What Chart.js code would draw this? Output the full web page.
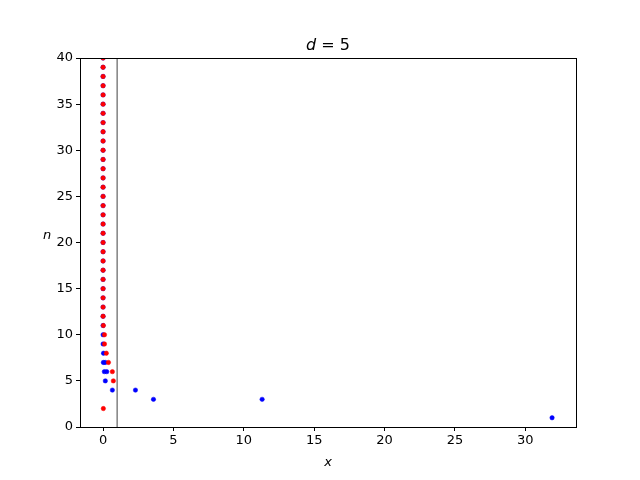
<!DOCTYPE html>
<html>
<head>
<meta charset="utf-8">
<script src="https://cdn.jsdelivr.net/npm/chart.js@4.4.1/dist/chart.umd.min.js"></script>
<style>
  html, body { margin: 0; padding: 0; background: #fff; }
  #wrap { width: 640px; height: 480px; }
</style>
</head>
<body>
<div id="wrap"><canvas id="chart" width="640" height="480"></canvas></div>
<script>
// values
var blueN = [1, 3, 3, 4, 4, 5, 6, 6, 7, 7, 8, 9, 10, 11, 12, 13, 14, 15, 16, 17, 18, 19, 20,
             21, 22, 23, 24, 25, 26, 27, 28, 29, 30, 31, 32, 33, 34, 35, 36, 37, 38, 39, 40];
var blueX = [31.9, 3.58, 11.3, 0.66, 2.3, 0.16, 0.09, 0.26, 0.02, 0.15, 0.03, 0.0, 0.0, 0.0, 0.0, 0.0, 0.0, 0.0, 0.0, 0.0, 0.0, 0.0, 0.0,
             0.0, 0.0, 0.0, 0.0, 0.0, 0.0, 0.0, 0.0, 0.0, 0.0, 0.0, 0.0, 0.0, 0.0, 0.0, 0.0, 0.0, 0.0, 0.0, 0.0];
var redN = [2, 5, 6, 7, 8, 9, 10, 11, 12, 13, 14, 15, 16, 17, 18, 19, 20,
            21, 22, 23, 24, 25, 26, 27, 28, 29, 30, 31, 32, 33, 34, 35, 36, 37, 38, 39, 40];
var redX = [0.02, 0.73, 0.66, 0.38, 0.23, 0.1, 0.1, 0.02, 0.0, 0.0, 0.0, 0.0, 0.0, 0.0, 0.0, 0.0, 0.0,
            0.0, 0.0, 0.0, 0.0, 0.0, 0.0, 0.0, 0.0, 0.0, 0.0, 0.0, 0.0, 0.0, 0.0, 0.0, 0.0, 0.0, 0.0, 0.0, 0.0];
var lineX = [1, 1];
var lineN = [0, 40];
var xTicks = [0, 5, 10, 15, 20, 25, 30];
var yTicks = [0, 5, 10, 15, 20, 25, 30, 35, 40];

function pts(xs, ys) {
    return xs.map(function (v, i) { return {x: v, y: ys[i]}; });
}

var FONT = "'DejaVu Sans', sans-serif";

// frame, title and horizontal y label
var extras = {
    id: 'extras',
    afterDraw: function (chart) {
        var c = chart.ctx, a = chart.chartArea;
        c.save();
        c.strokeStyle = '#000';
        c.lineWidth = 1;
        c.strokeRect(Math.round(a.left) + 0.5, Math.round(a.top) + 0.5,
                     Math.round(a.right - a.left), Math.round(a.bottom - a.top));
        c.fillStyle = '#000';
        c.textBaseline = 'alphabetic';
        // title "d = 5"
        c.font = 'italic 16px ' + FONT;
        var w1 = c.measureText('d').width;
        c.font = '16px ' + FONT;
        var w2 = c.measureText(' = 5').width;
        var cx = (a.left + a.right) / 2;
        var x0 = cx - (w1 + w2) / 2;
        c.textAlign = 'left';
        c.font = 'italic 16px ' + FONT;
        c.fillText('d', x0, 50);
        c.font = '16px ' + FONT;
        c.fillText(' = 5', x0 + w1, 50);
        // y label
        c.font = 'italic 13px ' + FONT;
        c.textAlign = 'center';
        c.fillText('n', 47, 239);
        c.restore();
    }
};

new Chart(document.getElementById('chart').getContext('2d'), {
    type: 'scatter',
    data: {
        datasets: [{
            type: 'line',
            order: 2,
            data: pts(lineX, lineN),
            borderColor: '#808080',
            borderWidth: 1.5,
            pointRadius: 0,
            showLine: true
        }, {
            order: 1,
            data: pts(blueX, blueN),
            backgroundColor: '#0000ff',
            borderColor: '#0000ff',
            pointRadius: 2.2,
            borderWidth: 0.5
        }, {
            order: 0,
            data: pts(redX, redN),
            backgroundColor: '#ff0000',
            borderColor: '#ff0000',
            pointRadius: 2.2,
            borderWidth: 0.5
        }]
    },
    options: {
        responsive: false,
        animation: false,
        layout: {padding: {left: 0, right: 64, top: 58, bottom: 0}},
        plugins: {legend: {display: false}, tooltip: {enabled: false}, title: {display: false}},
        scales: {
            x: {
                type: 'linear',
                min: -1.64, max: 33.6,
                afterBuildTicks: function (s) { s.ticks = xTicks.map(function (v) { return {value: v}; }); },
                afterFit: function (s) { s.height = 53; },
                grid: {drawOnChartArea: false, drawTicks: true, tickLength: 4, tickColor: '#000'},
                border: {display: true, color: '#000'},
                ticks: {color: '#000', font: {family: FONT, size: 13}, padding: 2, maxRotation: 0},
                title: {display: true, text: 'x', color: '#000', font: {family: FONT, size: 13, style: 'italic'}, padding: {top: 0, bottom: 10}}
            },
            y: {
                type: 'linear',
                min: 0, max: 40,
                afterBuildTicks: function (s) { s.ticks = yTicks.map(function (v) { return {value: v}; }); },
                afterFit: function (s) { s.width = 80; },
                grid: {drawOnChartArea: false, drawTicks: true, tickLength: 4, tickColor: '#000'},
                border: {display: true, color: '#000'},
                ticks: {color: '#000', font: {family: FONT, size: 13}, padding: 3}
            }
        }
    },
    plugins: [extras]
});
</script>
</body>
</html>
